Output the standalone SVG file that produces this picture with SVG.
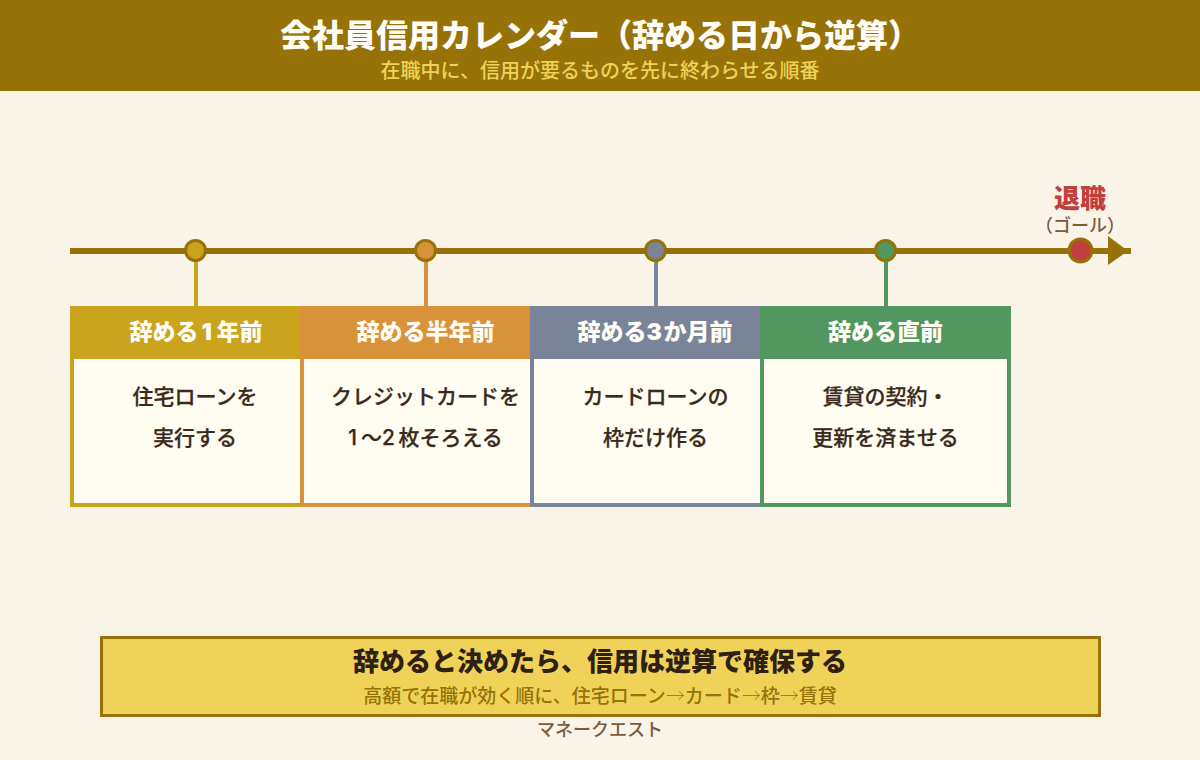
<svg xmlns="http://www.w3.org/2000/svg" width="1200" height="760" viewBox="0 0 1200 760">
<style>
text{font-family:"Noto Sans CJK JP","Noto Sans",sans-serif;text-anchor:middle}
.b{font-weight:900}
.h{font-size:23px;font-weight:900;fill:#fffdf5}
.t{font-size:21px;font-weight:500;fill:#3a2a1a;stroke:#3a2a1a;stroke-width:.25px}
.n{font-family:"Inter",sans-serif;letter-spacing:1.5px}
.a{font-weight:100}
.dot{stroke:#967208;stroke-width:3}
.body{fill:#fffcf2;stroke-width:4}
</style>
<rect width="1200" height="760" fill="#faf3e8"/>
<g id="header">
<rect width="1200" height="91" fill="#967208"/>
<text x="600" y="47" font-size="32" class="b" fill="#fffdf5">会社員信用カレンダー（辞める日から逆算）</text>
<text x="600" y="78" font-size="20" font-weight="500" fill="#f0d258">在職中に、信用が要るものを先に終わらせる順番</text>
</g>
<g id="connectors">
<line x1="70" y1="251" x2="1131" y2="251" stroke="#967208" stroke-width="6"/>
<polygon points="1108,236 1128,251 1108,265" fill="#967208"/>
<line x1="196" y1="262" x2="196" y2="306" stroke="#c9a41c" stroke-width="4"/>
<line x1="426" y1="262" x2="426" y2="306" stroke="#d8923a" stroke-width="4"/>
<line x1="656" y1="262" x2="656" y2="306" stroke="#7a8499" stroke-width="4"/>
<line x1="886" y1="262" x2="886" y2="306" stroke="#52975f" stroke-width="4"/>
</g>
<g id="goal">
<circle cx="1080.500" cy="250.500" r="11.500" fill="#c04040" class="dot"/>
<text x="1080" y="208" font-size="26" class="b" fill="#c04040">退職</text>
<text x="1080" y="232" font-size="18" font-weight="500" fill="#7a5c3e">（ゴール）</text>
</g>
<g id="card1">
<circle cx="195.500" cy="250.500" r="10" fill="#c9a41c" class="dot"/>
<rect x="72" y="308" width="230" height="197" class="body" stroke="#c9a41c"/>
<rect x="70" y="306" width="230" height="53" fill="#c9a41c"/>
<text x="196" y="340" class="h">辞める<tspan class="n" dx="3" style="letter-spacing:4.500px">1</tspan>年前</text>
<text x="195" y="404" class="t">住宅ローンを</text>
<text x="195" y="445" class="t">実行する</text>
</g>
<g id="card2">
<circle cx="425.500" cy="250.500" r="10" fill="#d8923a" class="dot"/>
<rect x="302" y="308" width="230" height="197" class="body" stroke="#d8923a"/>
<rect x="300" y="306" width="230" height="53" fill="#d8923a"/>
<text x="425.500" y="340" class="h">辞める半年前</text>
<text x="425.500" y="404" class="t">クレジットカードを</text>
<text x="425.500" y="445" class="t"><tspan class="n" style="letter-spacing:4px">1</tspan>〜<tspan class="n" style="letter-spacing:3.500px">2</tspan>枚そろえる</text>
</g>
<g id="card3">
<circle cx="655.500" cy="250.500" r="10" fill="#7a8499" class="dot"/>
<rect x="532" y="308" width="230" height="197" class="body" stroke="#7a8499"/>
<rect x="530" y="306" width="230" height="53" fill="#7a8499"/>
<text x="655" y="340" class="h">辞める<tspan class="n">3</tspan>か月前</text>
<text x="655.500" y="404" class="t">カードローンの</text>
<text x="655.500" y="445" class="t">枠だけ作る</text>
</g>
<g id="card4">
<circle cx="885.500" cy="250.500" r="10" fill="#52975f" class="dot"/>
<rect x="762" y="308" width="247" height="197" class="body" stroke="#52975f"/>
<rect x="760" y="306" width="251" height="53" fill="#52975f"/>
<text x="885.500" y="340" class="h">辞める直前</text>
<text x="885.500" y="404" class="t">賃貸の契約・</text>
<text x="885.500" y="445" class="t">更新を済ませる</text>
</g>
<g id="summary">
<rect x="101.500" y="637.500" width="998" height="78" fill="#f0d258" stroke="#967208" stroke-width="3"/>
<text x="600" y="671" font-size="26" class="b" fill="#2e2012">辞めると決めたら、信用は逆算で確保する</text>
<text x="600" y="703" font-size="19" font-weight="500" fill="#967208">高額で在職が効く順に、住宅ローン<tspan class="a">→</tspan>カード<tspan class="a">→</tspan>枠<tspan class="a">→</tspan>賃貸</text>
</g>
<text id="credit" x="600" y="736" font-size="18" font-weight="500" fill="#7a5c3e">マネークエスト</text>
</svg>
